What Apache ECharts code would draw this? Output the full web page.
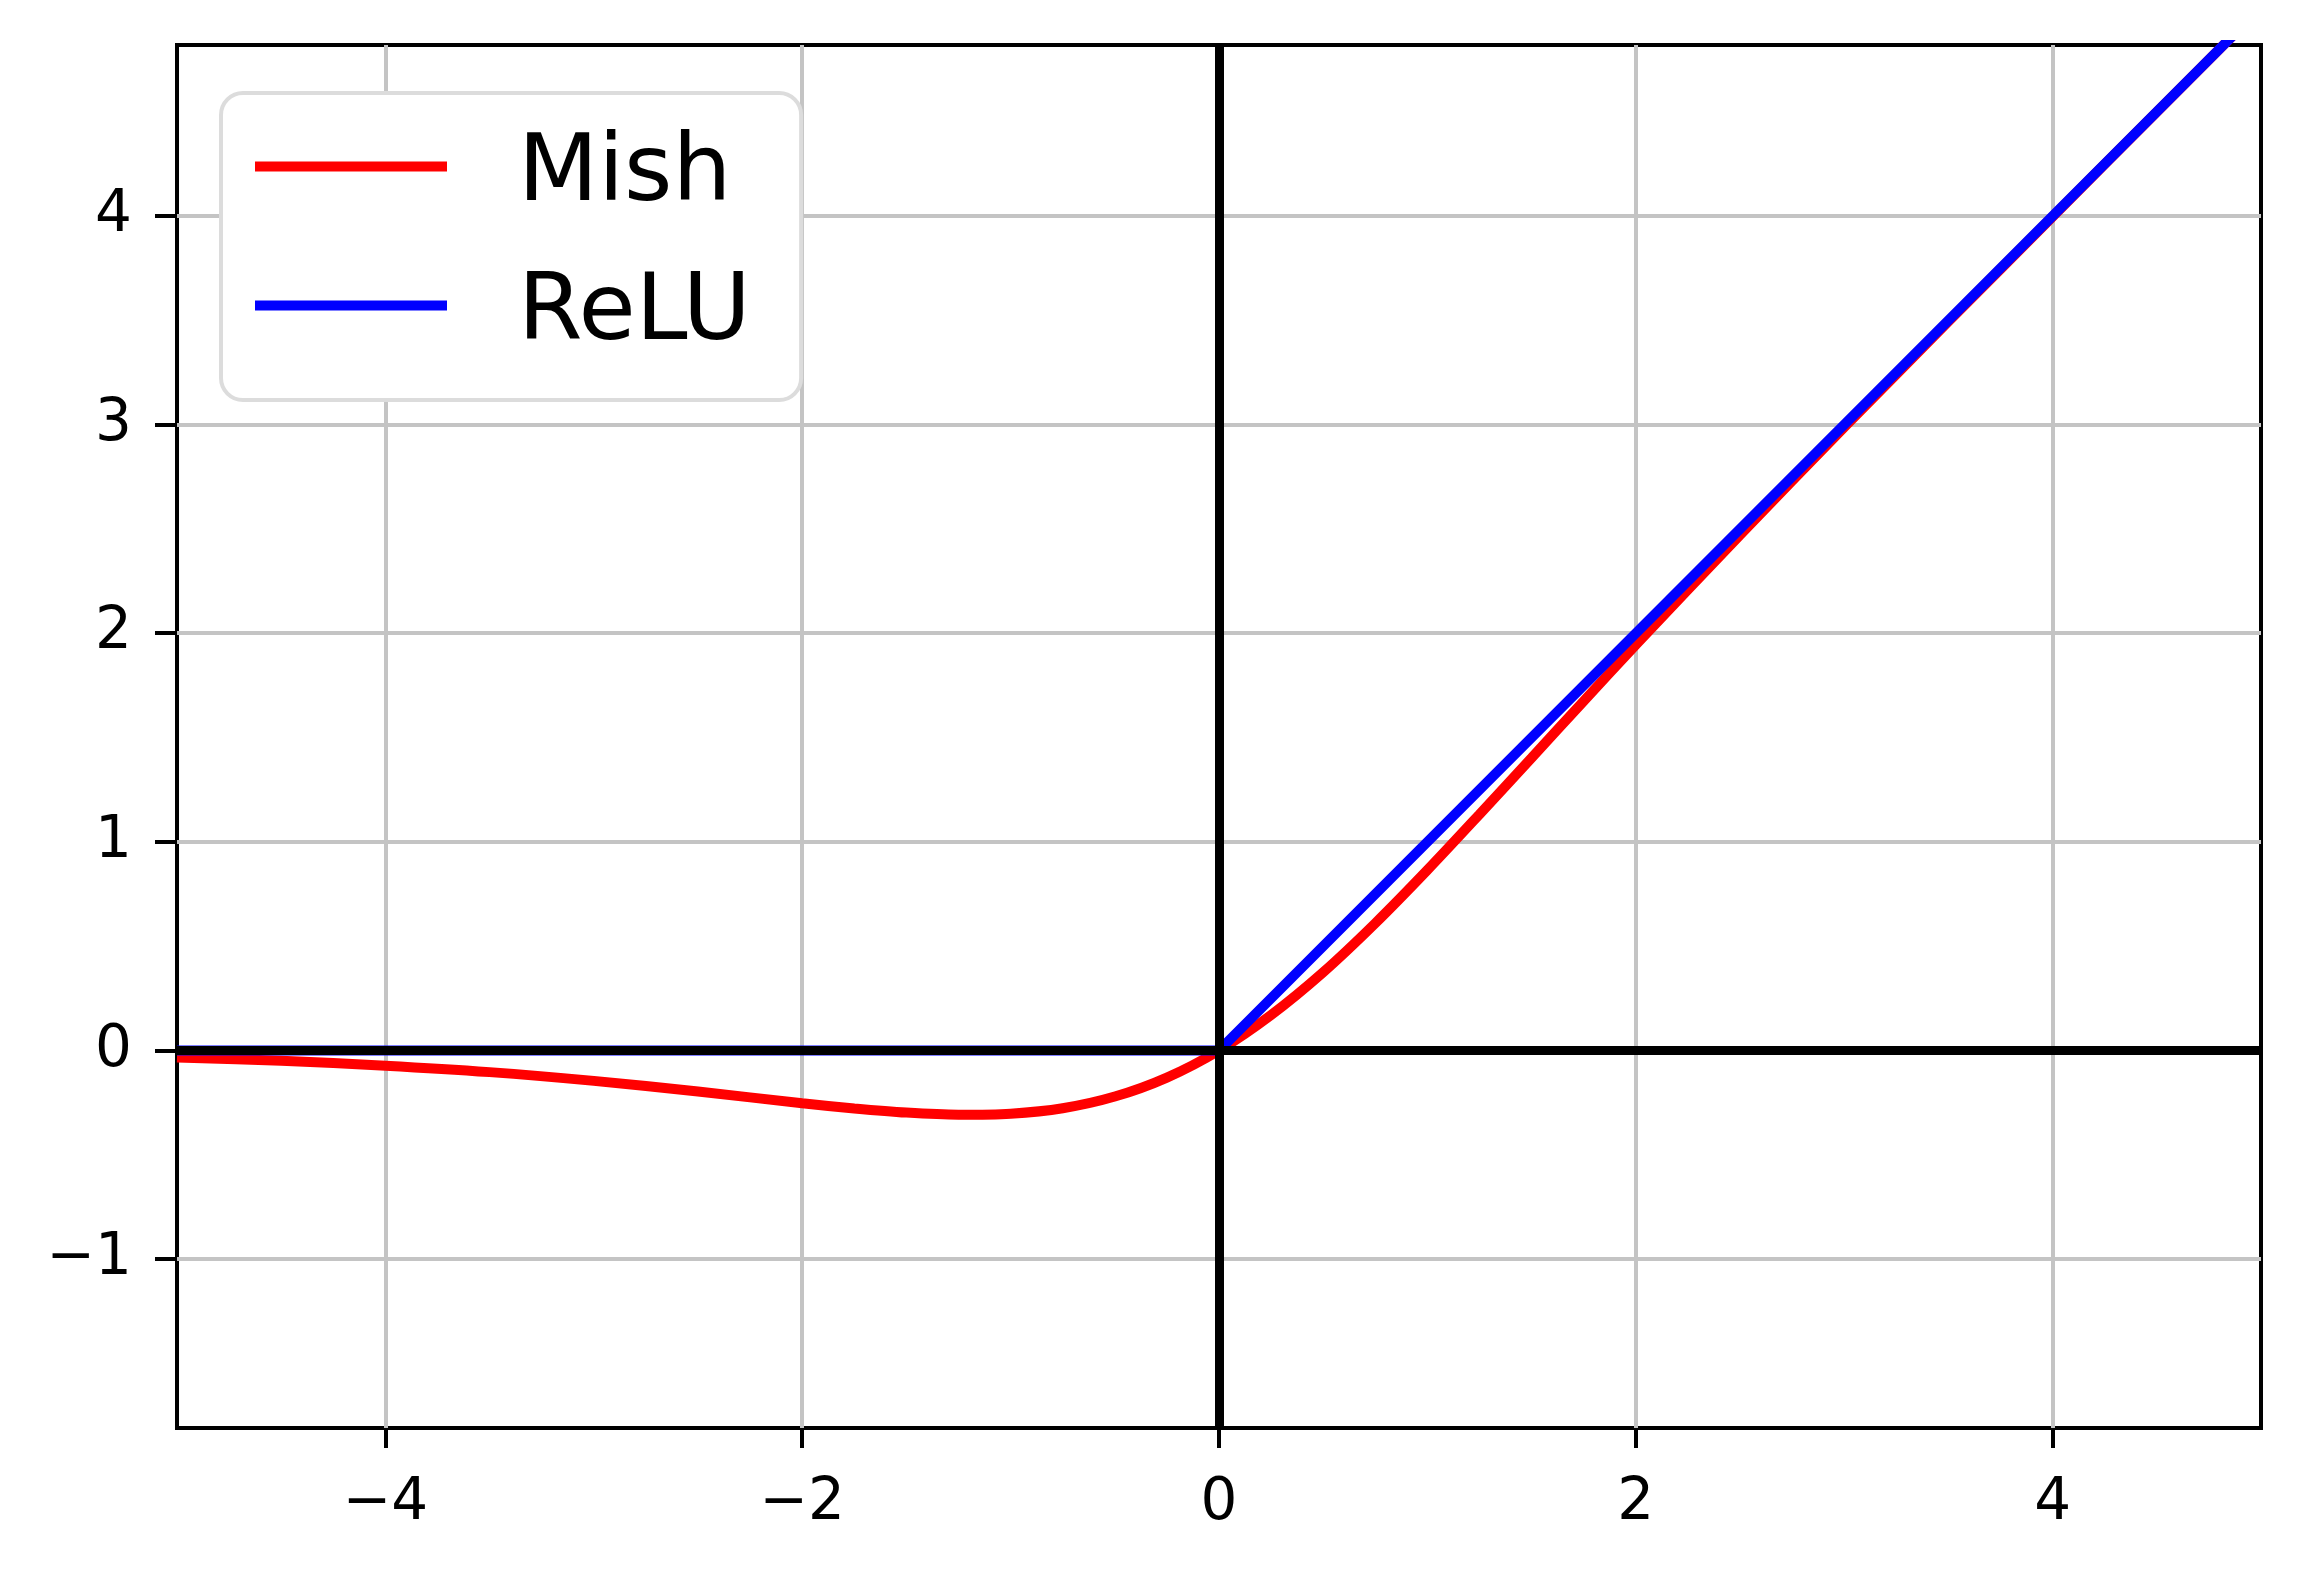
<!DOCTYPE html>
<html>
<head>
<meta charset="utf-8">
<script src="https://cdn.jsdelivr.net/npm/echarts@6/dist/echarts.min.js"></script>
<style>
  html, body { margin: 0; padding: 0; background: #fff; }
  #chart { width: 2302px; height: 1577px; }
</style>
</head>
<body>
<div id="chart"></div>
<script>
  // Mish curve, values
  var mishX = [-5, -4.5, -4, -3.5, -3, -2.5, -2, -1.75, -1.5, -1.25, -1, -0.75, -0.5, -0.25,
               0, 0.25, 0.5, 0.75, 1, 1.25, 1.5, 1.75, 2, 2.5, 3, 3.5, 4, 4.5, 5];
  var mishY = [-0.034, -0.050, -0.073, -0.104, -0.146, -0.197, -0.253, -0.278, -0.298, -0.308, -0.303, -0.277, -0.221, -0.130,
               0, 0.170, 0.375, 0.610, 0.865, 1.132, 1.403, 1.675, 1.944, 2.471, 2.987, 3.494, 3.997, 4.499, 5.000];
  // ReLU
  var reluX = [-5, 0, 5];
  var reluY = [0, 0, 5];

  var xTicks = [-4, -2, 0, 2, 4];
  var yTicks = [-1, 0, 1, 2, 3, 4];

  function zip(xs, ys) {
    var out = [];
    for (var i = 0; i < xs.length; i++) out.push([xs[i], ys[i]]);
    return out;
  }
  function minus(v) { return String(v).replace('-', '\u2212'); }

  var labelFont = { fontFamily: 'DejaVu Sans', fontSize: 58, color: '#000' };

  var chart = echarts.init(document.getElementById('chart'));
  chart.setOption({
    animation: false,
    backgroundColor: '#fff',
    grid: {
      left: 177, right: 41, top: 45, bottom: 149,
      show: true, borderColor: '#000', borderWidth: 4, backgroundColor: 'transparent'
    },
    legend: {
      left: 221, top: 93,
      orient: 'vertical',
      data: [{ name: 'Mish', icon: 'rect' }, { name: 'ReLU', icon: 'rect' }],
      itemWidth: 192, itemHeight: 10,
      itemGap: 46,
      // text sits a little low, like matplotlib's legend labels
      formatter: '{t|{name}}{s| }',
      textStyle: {
        color: '#000',
        rich: {
          t: { fontFamily: 'DejaVu Sans', fontSize: 93, color: '#000', lineHeight: 93,
               verticalAlign: 'bottom', padding: [0, 0, 0, 66] },
          s: { fontSize: 8, lineHeight: 111 }
        }
      },
      backgroundColor: '#fff',
      borderColor: '#dcdcdc', borderWidth: 4, borderRadius: 22,
      padding: [36, 48, 39, 34]
    },
    xAxis: {
      type: 'value', min: -5, max: 5,
      axisLine: { show: false, onZero: false },
      axisTick: { show: true, inside: false, length: 20, customValues: xTicks,
                  lineStyle: { color: '#000', width: 4 } },
      axisLabel: { customValues: xTicks, margin: 47, formatter: minus, ...labelFont },
      splitLine: { show: true, lineStyle: { color: '#c4c4c4', width: 4 } }
    },
    yAxis: {
      type: 'value', min: -1.81, max: 4.82,
      axisLine: { show: false, onZero: false },
      axisTick: { show: true, inside: false, length: 22, customValues: yTicks,
                  lineStyle: { color: '#000', width: 4 } },
      axisLabel: { customValues: yTicks, margin: 45, formatter: minus, ...labelFont },
      splitLine: { show: true, lineStyle: { color: '#c4c4c4', width: 4 } }
    },
    series: [
      {
        name: 'axes', type: 'line', data: [], z: 1, silent: true,
        markLine: {
          symbol: 'none', silent: true, animation: false, label: { show: false },
          lineStyle: { color: '#000', width: 9, type: 'solid' },
          data: [{ xAxis: 0 }, { yAxis: 0 }]
        }
      },
      {
        name: 'Mish', type: 'line', data: zip(mishX, mishY), z: 3,
        showSymbol: false, symbol: 'none', smooth: 0.3, clip: true,
        itemStyle: { color: '#ff0000' },
        lineStyle: { color: '#ff0000', width: 10 }
      },
      {
        name: 'ReLU', type: 'line', data: zip(reluX, reluY), z: 4,
        showSymbol: false, symbol: 'none', clip: true,
        itemStyle: { color: '#0000ff' },
        lineStyle: { color: '#0000ff', width: 10 }
      }
    ]
  });
</script>
</body>
</html>
